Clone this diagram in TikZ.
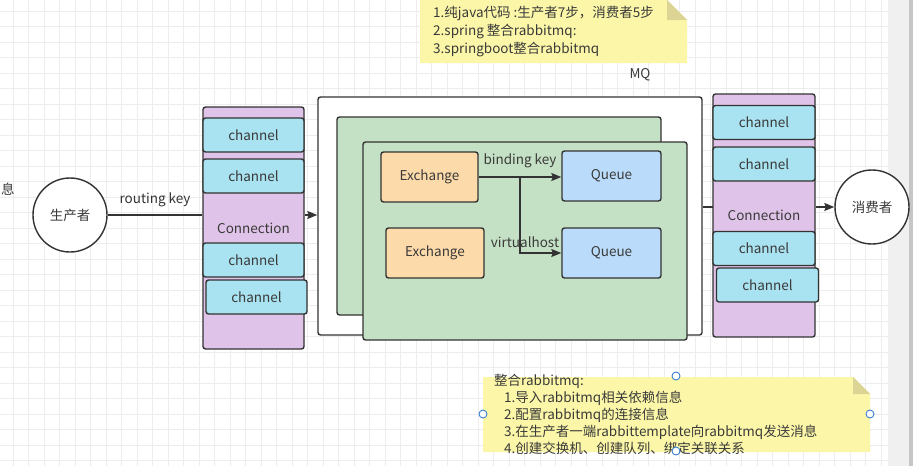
\documentclass[tikz,border=0pt]{standalone}
\usepackage{fontspec}
\setmainfont{Noto Sans CJK SC}
\usetikzlibrary{arrows.meta}
\definecolor{line}{HTML}{333333}
\definecolor{txt}{HTML}{3A3A3A}
\definecolor{connfill}{HTML}{E0C3E8}
\definecolor{chanfill}{HTML}{A9E2F0}
\definecolor{vhfill}{HTML}{C5E1C5}
\definecolor{exfill}{HTML}{FDDAAA}
\definecolor{qfill}{HTML}{BADCFA}
\definecolor{notefill}{HTML}{FCF7A8}
\definecolor{notefold}{HTML}{DCD494}
\definecolor{gridc}{HTML}{EDEDED}
\definecolor{handle}{HTML}{3B7FD1}

\begin{document}
\begin{tikzpicture}[x=1pt,y=-1pt,font=\fontsize{13.5}{16}\selectfont,text=txt,
  box/.style 2 args={draw=line,line width=1.4pt,rounded corners=2.5pt,inner sep=0pt,
    minimum width=#1,minimum height=#2},
  conn/.style={box={101}{242},fill=connfill},
  chan/.style={box={101}{34},fill=chanfill},
  vhost/.style={box={324}{198},fill=vhfill},
  exch/.style={box={97}{50},fill=exfill},
  queue/.style={box={99}{50},fill=qfill},
  role/.style={circle,draw=line,line width=1.4pt,fill=white,minimum size=74pt,inner sep=0pt},
  arr/.style={draw=line,line width=1.4pt,-{Stealth[length=10pt,width=8pt,inset=1.5pt]}},
  lab/.style={inner sep=1pt}]
\useasboundingbox (0,0) rectangle (913,466);
\fill[white] (0,0) rectangle (913,466);
\foreach \i in {0,...,56} \draw[gridc,line width=0.8pt] (13+15.5*\i,0) -- ++(0,466);
\foreach \j in {0,...,29} \draw[gridc,line width=0.8pt] (0,11+15.5*\j) -- ++(913,0);
\fill[gray!12] (888,0) rectangle (913,466);
\fill[gray!45] (909,0) rectangle (913,466);

\node[lab] (hint) at (8,189) {息};

\node[box={384}{238},fill=white] (mq) at (510,216) {};
\node[lab] (mqlab) at (640,75) {MQ};
\node[vhost] (vh1) at (499,216) {};
\node[vhost] (vh2) at (525,241) {};
\node[exch] (ex1) at (429.5,177) {Exchange};
\node[exch,minimum width=98pt] (ex2) at (435,253) {Exchange};
\node[queue] (q1) at (611.5,176) {Queue};
\node[queue] (q2) at (611.5,253) {Queue};
\coordinate (br) at (520,177);
\draw[arr] (ex1.east) -- (q1.west |- ex1.east);
\draw[arr] (br) |- (q2.west);
\node[lab] (bkey) at (520,161) {binding key};
\node[lab] (vhlab) at (525,242) {virtualhost};

\node[conn] (lconn) at (253.5,228) {Connection};
\node[chan] (lch1) at (253.5,135) {channel};
\node[chan] (lch2) at (253.5,176) {channel};
\node[chan] (lch3) at (253.5,260) {channel};
\node[chan] (lch4) at (256.5,297) {channel};

\draw[line,line width=1.4pt] (mq.east |- 0,207) -- (713,207);
\node[conn,minimum width=102pt,minimum height=243pt] (rconn) at (764,215.5) {Connection};
\node[chan,minimum width=102pt] (rch1) at (764,122.5) {channel};
\node[chan,minimum width=102pt] (rch2) at (764,164) {channel};
\node[chan,minimum width=102pt] (rch3) at (764,248.5) {channel};
\node[chan,minimum width=102pt] (rch4) at (767.5,285) {channel};

\node[role] (prod) at (70,215) {生产者};
\node[role] (cons) at (872,207) {消费者};
\draw[line,line width=1.4pt] (prod.east) -- (prod.east -| lconn.west)
  node[lab,midway,above=6pt] (rkey) {routing key};
\draw[arr] (lconn.east |- prod) -- (mq.west |- prod);
\draw[arr] (rconn.east |- cons) -- (cons.west);

\fill[notefill] (420,0) -- (667,0) -- (687,20) -- (687,63) -- (420,63) -- cycle;
\fill[notefold] (667,0) -- (687,20) -- (667,20) -- cycle;
\node[lab,anchor=north west,align=left,font=\fontsize{13.5}{18}\selectfont] (steps) at (432,5)
  {1.纯java代码 :生产者7步，消费者5步\\2.spring 整合rabbitmq:\\3.springboot整合rabbitmq};

\fill[notefill] (483,377) -- (853,377) -- (870,394) -- (870,452) -- (483,452) -- cycle;
\fill[notefold] (853,377) -- (870,394) -- (853,394) -- cycle;
\node[lab,anchor=north west,align=left,font=\fontsize{13.5}{17}\selectfont] (howto) at (493,373)
  {整合rabbitmq:\\
   \hspace*{10pt}1.导入rabbitmq相关依赖信息\\
   \hspace*{10pt}2.配置rabbitmq的连接信息\\
   \hspace*{10pt}3.在生产者一端rabbittemplate向rabbitmq发送消息\\
   \hspace*{10pt}4.创建交换机、创建队列、绑定关联关系};
\foreach \p in {(676,376),(483,414),(870,414),(676,451)}
  \draw[handle,fill=white,line width=0.9pt] \p circle (4);
\end{tikzpicture}
\end{document}
